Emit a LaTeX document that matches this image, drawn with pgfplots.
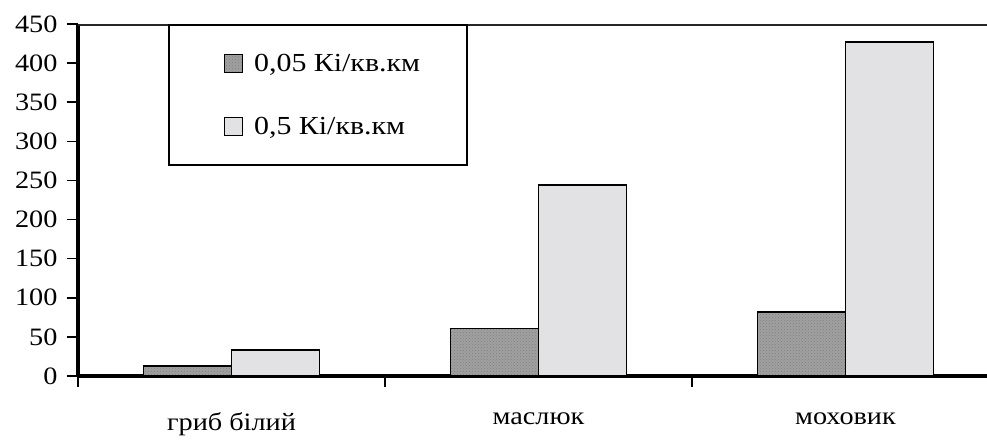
\documentclass[border=0pt]{standalone}
\usepackage{pgfplots}
\pgfplotsset{compat=1.18}
\usepackage{fontspec}
\setmainfont{Liberation Serif}
\usetikzlibrary{patterns}
\newcommand{\sx}[1]{\scalebox{1.13}[1]{#1}}
\newcommand{\slg}[1]{\scalebox{1.15}[1]{#1}}
\definecolor{darkfill}{HTML}{A0A0A0}
\definecolor{lightfill}{HTML}{E2E2E4}
\begin{document}
\begin{tikzpicture}
\begin{axis}[
  scale only axis, width=909pt, height=352pt,
  at={(0,0)}, anchor=south west,
  xmin=-0.5, xmax=2.461, ymin=0, ymax=450,
  axis x line=bottom, axis y line=left,
  axis line style={-, line width=3.5pt},
  ytick={0,50,...,450},
  yticklabel={\sx{\pgfmathprintnumber{\tick}}},
  /pgf/number format/assume math mode=true,
  yticklabel style={xshift=-6pt},
  tick align=outside, major tick length=11pt,
  tick style={black, line width=1.5pt},
  xtick={-0.5,0.5,1.5}, xticklabels={},
  extra x ticks={0,1,2},
  extra x tick labels={\sx{гриб білий},\sx{маслюк},\sx{моховик}},
  extra x tick style={major tick length=0pt, xticklabel style={yshift=-33pt}},
  tick label style={font=\fontsize{25}{30}\selectfont},
  ybar, bar width=0.287,
  legend image code/.code={\path (0pt,0pt); \draw[#1, line width=1pt] (8pt,-9pt) rectangle (26pt,9pt);},
  legend style={at={(axis description cs:0.099,1)}, anchor=north west,
    draw=black, line width=1.8pt, font=\fontsize{26}{31}\selectfont,
    inner xsep=47pt, inner ysep=29pt, row sep=44pt,
    nodes={inner sep=0pt},
    /tikz/column 1/.style={column sep=11pt}},
  legend cell align=left,
]
\addplot[draw=black, line width=1.5pt, fill=darkfill, bar shift=-0.1435,
  postaction={pattern=crosshatch dots, pattern color=black!50}]
  coordinates {(0,12.5) (1,61) (2,82)};
\addlegendentry{\slg{0,05 Кі/кв.км}}
\addplot[draw=black, line width=1.5pt, fill=lightfill, bar shift=0.1435]
  coordinates {(0,33) (1,244) (2,427)};
\addlegendentry{\slg{0,5 Кі/кв.км}}
\draw[line width=3pt, black!85] (rel axis cs:0,1) -- (rel axis cs:1,1);
\end{axis}
\pgfresetboundingbox
\useasboundingbox (-78pt,-63pt) rectangle (909pt,376pt);
\end{tikzpicture}
\end{document}
